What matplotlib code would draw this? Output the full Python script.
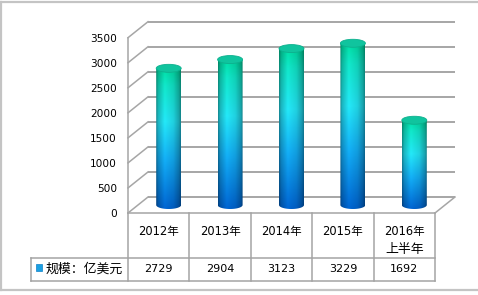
import numpy as np
import matplotlib
matplotlib.use("Agg")
import matplotlib.pyplot as plt
from matplotlib.patches import Ellipse, PathPatch, Rectangle
from matplotlib.path import Path
from matplotlib.colors import LinearSegmentedColormap

# ---------------- data ----------------
categories = ["2012年", "2013年", "2014年", "2015年", "2016年\n上半年"]
values = [2729, 2904, 3123, 3229, 1692]
series_name = "规模：亿美元"
y_ticks = [0, 500, 1000, 1500, 2000, 2500, 3000, 3500]

plt.rcParams['font.family'] = ['DejaVu Sans', 'Noto Sans CJK SC']

W, H = 478, 295
fig = plt.figure(figsize=(W / 100, H / 100), dpi=100)
fig.patch.set_facecolor('white')

# layout in pixels (from top-left)
L, R = 128, 435          # front plot left / right
Y0, YTOP = 213, 37.7     # front y of value 0 / value 3500
DEPTH_X, DEPTH_Y = 20, 16  # 3D depth offset in px
ROW1, ROW2 = 258, 281    # table row bottoms
LEG_L = 31

# overlay axes in pixel coordinates
ov = fig.add_axes([0, 0, 1, 1])
ov.set_xlim(0, W)
ov.set_ylim(H, 0)
ov.axis('off')

# outer frame (left, top, bottom)
fc = '#c4c4c4'
ov.plot([1, 1], [2, 289.5], color=fc, lw=1.6)
ov.plot([1, W], [2, 2], color=fc, lw=1.6)
ov.plot([1, W], [289.5, 289.5], color=fc, lw=1.6)

# main axes
ax = fig.add_axes([L / W, (H - Y0) / H, (R - L) / W, (Y0 - YTOP) / H])
ax.patch.set_visible(False)
n = len(categories)
ymax = 3500
px_per_unit = (R - L) / n
px_per_val = (Y0 - YTOP) / ymax
DX = DEPTH_X / px_per_unit
DY = DEPTH_Y / px_per_val

grid_c = '#a6a6a6'
for v in y_ticks:
    ax.plot([-0.5 + DX, n - 0.5 + DX], [v + DY, v + DY], color=grid_c, lw=1.4,
            clip_on=False, zorder=1, solid_capstyle='butt')
    ax.plot([-0.5, -0.5 + DX], [v, v + DY], color=grid_c, lw=1.1, clip_on=False, zorder=1)
ax.plot([-0.5, -0.5], [0, ymax], color=grid_c, lw=1.1, clip_on=False, zorder=1)
ax.plot([n - 0.5, n - 0.5 + DX], [0, DY], color=grid_c, lw=1.1, clip_on=False, zorder=1)

# cylinder gradient image
vstops = [(0.0, '#00d49c'), (0.12, '#10dcc0'), (0.38, '#22dcec'),
          (0.65, '#12a6ea'), (1.0, '#0060c8')]
vcmap = LinearSegmentedColormap.from_list('v', vstops)
nv, nh = 200, 60
vcol = vcmap(np.linspace(0, 1, nv))[:, :3]
xs = np.linspace(0, 1, nh)
shade = np.interp(xs, [0, 0.08, 0.35, 0.7, 0.92, 1.0], [0.62, 0.82, 1.06, 0.95, 0.75, 0.6])
grad = np.clip(vcol[:, None, :] * shade[None, :, None], 0, 1)

hw = 12.5 / px_per_unit
ry = 4.0 / px_per_val
top_c = '#10c49e'
for i, v in enumerate(values):
    cx = i + DX / 2
    base = DY / 2
    top = base + v
    img = ax.imshow(grad, extent=[cx - hw, cx + hw, base - ry, top], aspect='auto',
                    origin='upper', interpolation='bilinear', zorder=3)
    t = np.linspace(np.pi, 2 * np.pi, 40)
    verts = [(cx - hw, top)] + [(cx + hw * np.cos(a), base + ry * np.sin(a)) for a in t] + \
            [(cx + hw, top), (cx - hw, top)]
    codes = [Path.MOVETO] + [Path.LINETO] * (len(verts) - 2) + [Path.CLOSEPOLY]
    clip = PathPatch(Path(verts, codes), transform=ax.transData, facecolor='none', edgecolor='none')
    ax.add_patch(clip)
    img.set_clip_path(clip)
    img.set_clip_on(True)
    ax.add_patch(Ellipse((cx, top), 2 * hw, 2 * ry, facecolor=top_c, edgecolor='#0db08e',
                         lw=0.6, zorder=4, clip_on=False))

ax.set_xlim(-0.5, n - 0.5)
ax.set_ylim(0, ymax)
ax.set_xticks([])
ax.set_yticks(y_ticks)
ax.set_yticklabels([str(t) for t in y_ticks])
ax.tick_params(axis='y', length=0, pad=8, labelsize=7.6, colors='black')
for s in ax.spines.values():
    s.set_visible(False)

# table
tc = '#a4a4a4'
col_w = (R - L) / n
ov.plot([L, R], [Y0, Y0], color=tc, lw=1.1)
ov.plot([LEG_L, R], [ROW1, ROW1], color=tc, lw=1.1)
ov.plot([LEG_L, R], [ROW2, ROW2], color=tc, lw=1.1)
ov.plot([LEG_L, LEG_L], [ROW1, ROW2], color=tc, lw=1.1)
for k in range(n + 1):
    x = L + k * col_w
    ov.plot([x, x], [Y0, ROW2], color=tc, lw=1.1)

for i, (c, v) in enumerate(zip(categories, values)):
    xc = L + (i + 0.5) * col_w
    for j, line in enumerate(c.split('\n')):
        fs = 8.3 if any(ch.isdigit() for ch in line) else 9.3
        ov.text(xc, 232 + 18 * j, line, ha='center', va='center', fontsize=fs)
    ov.text(xc, 269.5, str(v), ha='center', va='center', fontsize=8)

# legend marker + series name
ov.add_patch(Rectangle((36, 264), 6.5, 6.5, facecolor='#1aa0e2', edgecolor='#1080c8', lw=0.5))
ov.text(46, 269.5, series_name, ha='left', va='center', fontsize=9.3)

fig.savefig('out.png', dpi=100, facecolor='white')
